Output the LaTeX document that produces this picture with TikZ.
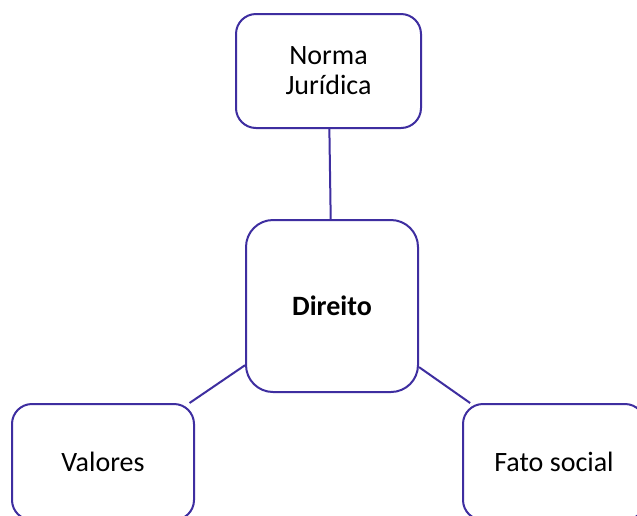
\documentclass[tikz,border=0pt]{standalone}
\usepackage{fontspec}
\setmainfont{Carlito}
\definecolor{edge}{RGB}{62,46,160}
\begin{document}
\begin{tikzpicture}[x=1pt,y=-1pt,
  box/.style={draw=edge, line width=2pt, fill=white, rounded corners=20pt,
    inner sep=0pt, align=center, font=\fontsize{28}{30}\selectfont},
  link/.style={draw=edge, line width=2pt}]
\useasboundingbox (0,0) rectangle (637,515);
\clip (0,0) rectangle (637,515);
\fill[white] (0,0) rectangle (637,515);
\node[box, minimum width=185pt, minimum height=114pt] (norma) at (328.5,71) {Norma\\Jurídica};
\node[box, minimum width=172pt, minimum height=172pt, rounded corners=27pt] (direito) at (332,306) {\bfseries Direito};
\node[box, minimum width=182pt, minimum height=116pt] (valores) at (103,462) {Valores};
\node[box, minimum width=182pt, minimum height=116pt] (fato) at (554,462) {Fato social};
\draw[link] (norma) -- (direito);
\draw[link] (valores) -- (direito);
\draw[link] (fato) -- (direito);
\end{tikzpicture}
\end{document}
